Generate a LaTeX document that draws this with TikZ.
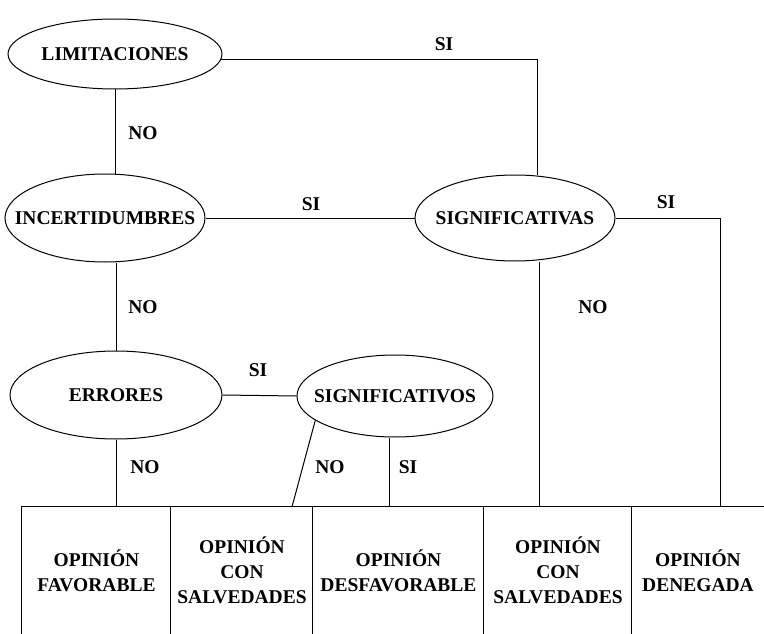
\documentclass[tikz,border=0pt]{standalone}
\usepackage{fontspec}
\setmainfont{Liberation Serif}
\usetikzlibrary{shapes.geometric,calc}
\begin{document}
\begin{tikzpicture}[x=1pt,y=-1pt,
  ell/.style={ellipse,draw,line width=1pt,inner xsep=-60pt,inner ysep=0pt,font=\bfseries\fontsize{19.5}{22}\selectfont},
  lab/.style={font=\bfseries\fontsize{19.5}{22}\selectfont,inner sep=0pt},
  box/.style={rectangle,draw=none,inner sep=0pt,minimum height=127pt,align=center,font=\bfseries\fontsize{19.5}{25}\selectfont},
  conn/.style={line width=1pt}]
\useasboundingbox (0,0) rectangle (764,634);
% decision ellipses
\node[ell,minimum width=214pt,minimum height=70pt] (lim) at (115,54) {LIMITACIONES};
\node[ell,minimum width=200pt,minimum height=88pt] (inc) at (105,218) {INCERTIDUMBRES};
\node[ell,minimum width=200pt,minimum height=86pt] (sigas) at (515,218) {SIGNIFICATIVAS};
\node[ell,minimum width=212pt,minimum height=88pt] (err) at (116,395) {ERRORES};
\node[ell,minimum width=196pt,minimum height=82pt] (sigos) at (395,396) {SIGNIFICATIVOS};
% result boxes
\node[box,minimum width=149pt] (b1) at (96.5,570.5) {OPINIÓN\\FAVORABLE};
\node[box,minimum width=142pt] (b2) at (242,570.5) {OPINIÓN\\CON\\SALVEDADES};
\node[box,minimum width=171pt] (b3) at (398.5,570.5) {OPINIÓN\\DESFAVORABLE};
\node[box,minimum width=148pt] (b4) at (558,570.5) {OPINIÓN\\CON\\SALVEDADES};
\node[box,minimum width=132pt] (b5) at (698,570.5) {OPINIÓN\\DENEGADA};
\draw[conn] (b1.south west) -- (b1.north west) -- (b5.north east);
\foreach \b in {b2,b3,b4,b5} \draw[conn] (\b.north west) -- (\b.south west);
% helper coordinates
\coordinate (s1) at ($(sigos.south)+(-6,0)$);
\coordinate (s2) at ($(sigas.south)+(24,0)$);
\coordinate (s3) at ($(sigas.north)+(22,0)$);
\coordinate (s4) at ($(b2.north)+(50,0)$);
\coordinate (r) at (720,218);
% connectors
\draw[conn] (lim.south) -- (lim.south |- inc.north);
\draw[conn] (lim.-3) -| (s3);
\draw[conn] (inc.east) -- (sigas.west);
\draw[conn] (err.north |- inc.south) -- (err.north);
\draw[conn] (sigas.east) -- (r) -- (r |- b5.north);
\draw[conn] (s2) -- (s2 |- b4.north);
\draw[conn] (err.east) -- (sigos.west);
\draw[conn] (err.south) -- (err.south |- b1.north);
\draw[conn] (sigos.197) -- (s4);
\draw[conn] (s1) -- (s1 |- b3.north);
% labels
\node[lab] (l1) at (444,44) {SI};
\node[lab] (l2) at (143,133) {NO};
\node[lab] (l3) at (311,204) {SI};
\node[lab] (l4) at (666,202) {SI};
\node[lab] (l5) at (143,307) {NO};
\node[lab] (l6) at (593,307) {NO};
\node[lab] (l7) at (258,370) {SI};
\node[lab] (l8) at (145,467) {NO};
\node[lab] (l9) at (330,467) {NO};
\node[lab] (l10) at (408,467) {SI};
\end{tikzpicture}
\end{document}
